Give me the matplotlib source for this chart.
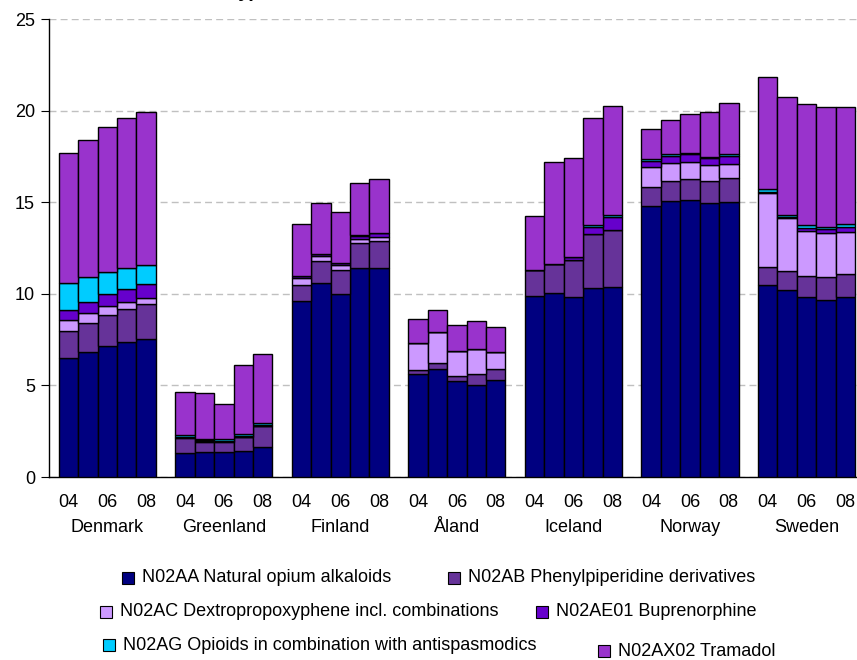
import matplotlib.pyplot as plt
from matplotlib.patches import Rectangle

plt.rcParams['font.family'] = ['Liberation Sans', 'DejaVu Sans']

# countries and years
countries = ['Denmark', 'Greenland', 'Finland', 'Åland', 'Iceland', 'Norway', 'Sweden']
years = ['04', '05', '06', '07', '08']
year_labels = ['04', '', '06', '', '08']

# DDD/1000 inhabitants/day, one list per ATC group (7 countries x 5 years)
n02aa = [6.48, 6.81, 7.13, 7.35, 7.55,
         1.29, 1.35, 1.38, 1.42, 1.62,
         9.59, 10.57, 9.99, 11.39, 11.39,
         5.62, 5.90, 5.22, 5.00, 5.29,
         9.88, 10.06, 9.84, 10.33, 10.39,
         14.81, 15.05, 15.12, 14.97, 15.03,
         10.46, 10.21, 9.81, 9.66, 9.81]
n02ab = [1.49, 1.58, 1.70, 1.80, 1.88,
         0.86, 0.58, 0.55, 0.78, 1.18,
         0.89, 1.20, 1.29, 1.38, 1.49,
         0.22, 0.30, 0.29, 0.60, 0.62,
         1.42, 1.57, 2.01, 2.95, 3.09,
         1.04, 1.09, 1.16, 1.19, 1.31,
         0.99, 1.03, 1.14, 1.24, 1.29]
n02ac = [0.60, 0.54, 0.50, 0.42, 0.32,
         0.02, 0.02, 0.01, 0.01, 0.01,
         0.40, 0.29, 0.29, 0.22, 0.22,
         1.47, 1.70, 1.38, 1.40, 0.90,
         0.00, 0.00, 0.00, 0.00, 0.00,
         1.07, 1.02, 0.93, 0.85, 0.74,
         4.04, 2.88, 2.49, 2.42, 2.29]
n02ae01 = [0.55, 0.64, 0.64, 0.69, 0.77,
           0.01, 0.05, 0.01, 0.01, 0.01,
           0.11, 0.10, 0.11, 0.18, 0.20,
           0.00, 0.00, 0.00, 0.00, 0.00,
           0.00, 0.00, 0.14, 0.35, 0.69,
           0.35, 0.38, 0.40, 0.40, 0.45,
           0.05, 0.05, 0.13, 0.20, 0.27]
n02ag = [1.48, 1.33, 1.20, 1.17, 1.04,
         0.13, 0.07, 0.11, 0.11, 0.11,
         0.00, 0.00, 0.00, 0.02, 0.02,
         0.00, 0.00, 0.00, 0.00, 0.00,
         0.00, 0.00, 0.00, 0.10, 0.11,
         0.07, 0.07, 0.08, 0.06, 0.08,
         0.16, 0.13, 0.19, 0.14, 0.15]
n02ax02 = [7.07, 7.50, 7.92, 8.18, 8.38,
           2.31, 2.50, 1.94, 3.77, 3.78,
           2.80, 2.81, 2.80, 2.87, 2.93,
           1.30, 1.20, 1.42, 1.50, 1.39,
           2.96, 5.56, 5.44, 5.86, 5.97,
           1.64, 1.86, 2.11, 2.44, 2.79,
           6.12, 6.43, 6.60, 6.52, 6.40]

series = [
    ('N02AA Natural opium alkaloids', n02aa, '#000080'),
    ('N02AB Phenylpiperidine derivatives', n02ab, '#663399'),
    ('N02AC Dextropropoxyphene incl. combinations', n02ac, '#CC99FF'),
    ('N02AE01 Buprenorphine', n02ae01, '#6600CC'),
    ('N02AG Opioids in combination with antispasmodics', n02ag, '#00CCFF'),
    ('N02AX02 Tramadol', n02ax02, '#9933CC'),
]

# bar positions: 5 bars per country plus one empty slot between groups
xpos = [g * 6 + i for g in range(len(countries)) for i in range(len(years))]

fig = plt.figure(figsize=(8.57, 6.6), dpi=100)
ax = fig.add_axes([49 / 857, 1 - 477 / 660, 1 - 49 / 857, (477 - 19) / 660])

bottom = [0.0] * len(xpos)
for label, vals, color in series:
    ax.bar(xpos, vals, bottom=bottom, width=1.0, color=color,
           edgecolor='black', linewidth=1.0, label=label, zorder=3)
    bottom = [b + v for b, v in zip(bottom, vals)]

ax.set_ylim(0, 25)
ax.set_xlim(-1.0, 40.6)
ax.set_yticks([0, 5, 10, 15, 20, 25])
ax.tick_params(axis='y', labelsize=13, length=6, direction='out', pad=4)
ax.yaxis.grid(True, linestyle=(0, (5, 3)), color='#C0C0C0', linewidth=1.0, zorder=0)
ax.set_axisbelow(True)

ax.set_xticks(xpos)
ax.set_xticklabels(year_labels * len(countries))
ax.tick_params(axis='x', length=0, labelsize=13, pad=12)

for g, name in enumerate(countries):
    ax.text(g * 6 + 2, -50 / 458, name, transform=ax.get_xaxis_transform(),
            ha='center', va='center', fontsize=13)

for side in ['top', 'right']:
    ax.spines[side].set_visible(False)
ax.spines['left'].set_linewidth(1.0)
ax.spines['bottom'].set_linewidth(1.0)

# partly hidden title fragment at top edge
fig.text(108 / 857, 1 + 3 / 660, 'inhabitants/day), 2004–2008', fontsize=14,
         fontweight='bold', fontstyle='italic', va='baseline', ha='left')

# legend laid out in three centred rows as in the original
legend_rows = [
    [(0, 122, 578), (1, 448, 578)],
    [(2, 100, 612), (3, 536, 612)],
    [(4, 103, 645), (5, 598, 651)],
]
for row in legend_rows:
    for idx, px, py in row:
        label, vals, color = series[idx]
        fig.patches.append(Rectangle((px / 857, 1 - (py + 6) / 660), 12 / 857, 12 / 660,
                                     transform=fig.transFigure, facecolor=color,
                                     edgecolor='black', linewidth=0.8))
        fig.text((px + 20) / 857, 1 - py / 660, label, fontsize=13,
                 va='center', ha='left')

fig.savefig('out.png', dpi=100)
